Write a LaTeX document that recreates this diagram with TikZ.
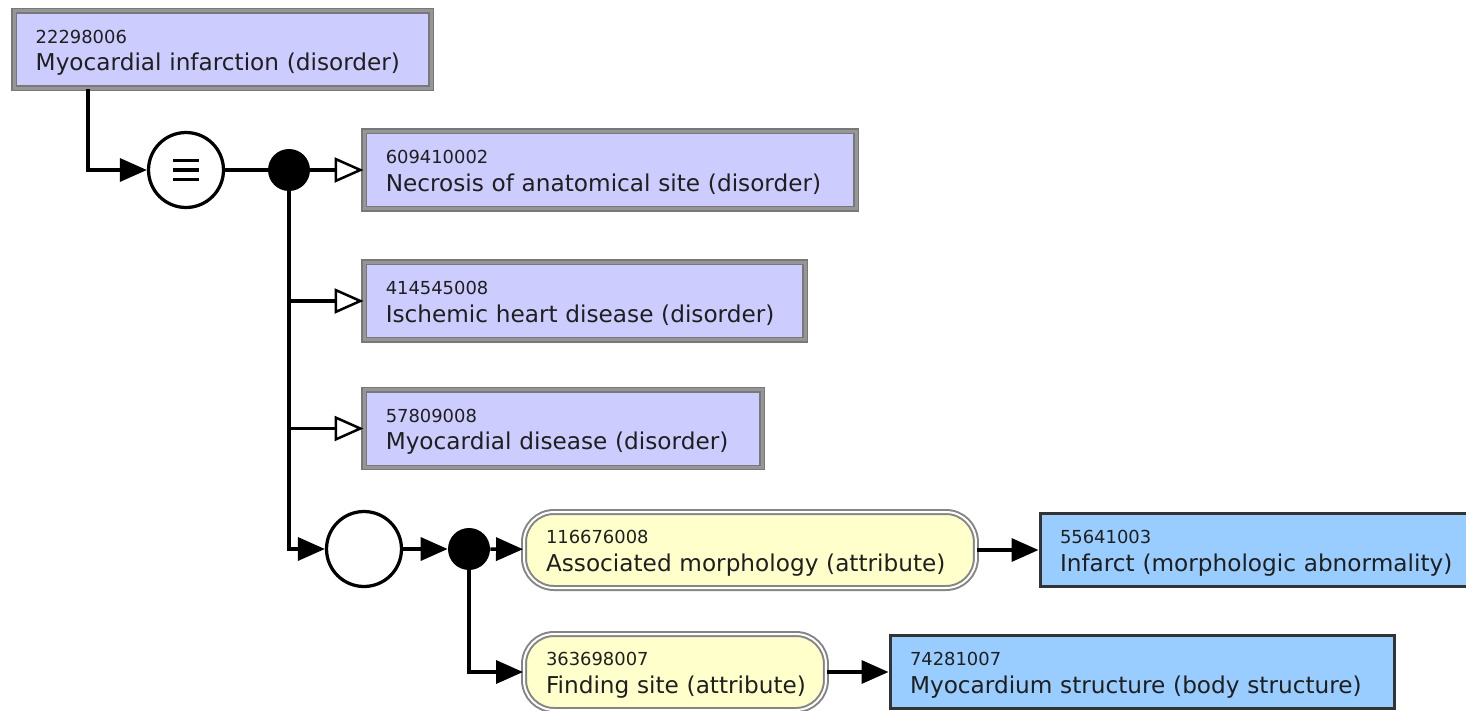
\documentclass[tikz,border=0pt]{standalone}
\usepackage{fontspec}
\setmainfont{DejaVu Sans}
\usetikzlibrary{arrows.meta}

\definecolor{disorder}{RGB}{204,204,255}
\definecolor{attribute}{RGB}{255,255,204}
\definecolor{target}{RGB}{153,204,255}
\definecolor{frame}{RGB}{120,120,120}
\definecolor{framelight}{RGB}{150,150,150}

% id on the first line, description on the second
\def\Concept#1#2{{\fontsize{10.2pt}{15.9pt}\selectfont\rule{0pt}{0.42cm}#1}\\
	\mbox{\rule[-0.12cm]{0pt}{0.12cm}#2}}

\begin{document}
\begin{tikzpicture}
	[x=0.02cm, y=-0.02cm,
	font=\fontsize{13.2pt}{15.9pt}\selectfont,
	text=black!88]

\tikzstyle{primitive}=[rectangle, anchor=west, align=left, fill=disorder,
	draw=frame, double=framelight, line width=0.03cm, double distance=0.06cm,
	inner xsep=0.43cm, inner ysep=0pt, minimum height=1.56cm]
\tikzstyle{attr}=[rectangle, rounded corners=0.6cm, anchor=west, align=left,
	fill=attribute, draw=frame!90, double=white, line width=0.04cm,
	double distance=0.04cm, inner xsep=0.44cm, inner ysep=0pt,
	minimum height=1.52cm]
\tikzstyle{value}=[rectangle, anchor=west, align=left, fill=target,
	draw=black!80, line width=0.06cm, inner xsep=0.4cm, inner ysep=0pt,
	minimum height=1.46cm]
\tikzstyle{operator}=[circle, draw, line width=0.065cm, fill=white,
	minimum size=1.5cm, inner sep=0pt]
\tikzstyle{junction}=[circle, fill=black, minimum size=0.84cm, inner sep=0pt]
\tikzstyle{edge}=[line width=0.07cm]
\tikzstyle{link}=[edge, -{Triangle[length=0.54cm, width=0.46cm]}]
\tikzstyle{isa}=[edge,
	-{Triangle[open, length=0.58cm, width=0.5cm, line width=0.05cm, fill=white]}]

\def\RowA{170}
\def\RowB{301}
\def\RowC{428.5}
\def\RowD{550}
\def\RowE{672}

\useasboundingbox (0,0) rectangle (1466,710);

% Concept being defined
\node[primitive, text width=7.48cm] (mi) at (13.5,49.5)
	{\Concept{22298006}{Myocardial infarction (disorder)}};

% Operators
\node[operator] (eq) at (186,\RowA) {};
\foreach \dy in {-9.5,0,9.5}
	\draw[line width=0.07cm] ([shift={(-13,\dy)}]eq.center) -- +(26,0);
\node[junction] (split) at (289,\RowA) {};
\node[operator] (group) at (364,549) {};
\node[junction] (roles) at (469,549) {};

% Parents
\node[primitive, text width=8.98cm] (necrosis) at (363.5,\RowA)
	{\Concept{609410002}{Necrosis of anatomical site (disorder)}};
\node[primitive, text width=7.96cm] (ischemic) at (363.5,\RowB)
	{\Concept{414545008}{Ischemic heart disease (disorder)}};
\node[primitive, text width=7.10cm] (myocardial) at (363.5,\RowC)
	{\Concept{57809008}{Myocardial disease (disorder)}};

% Attributes and their values
\node[attr, text width=8.16cm] (morph) at (523,\RowD)
	{\Concept{116676008}{Associated morphology (attribute)}};
\node[attr, text width=5.16cm] (site) at (523,\RowE)
	{\Concept{363698007}{Finding site (attribute)}};
\node[value, text width=7.80cm] (infarct) at (1038.5,\RowD)
	{\Concept{55641003}{Infarct (morphologic abnormality)}};
\node[value, text width=9.30cm] (myocardium) at (888.5,\RowE)
	{\Concept{74281007}{Myocardium structure (body structure)}};

% Connectors
\draw[link] ([xshift=1.49cm]mi.south west) |- (eq);
\draw[edge] (eq) -- (split);
\draw[isa] (split) -- (necrosis);
\draw[isa] (split |- ischemic) -- (ischemic);
\draw[isa] (split |- myocardial) -- (myocardial);
\draw[link] (split) |- (group);
\draw[link] (group) -- (roles);
\draw[link] (roles) -- (morph);
\draw[link] (roles) |- (site);
\draw[link] (morph) -- (infarct);
\draw[link] (site) -- (myocardium);

\end{tikzpicture}
\end{document}
